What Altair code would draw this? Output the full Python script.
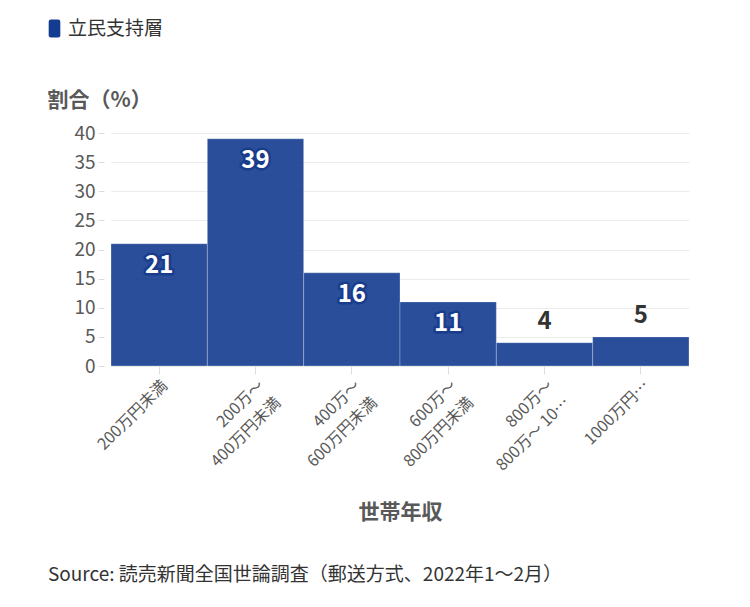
import pandas as pd
import altair as alt

# data
INCOME = [
    "200万円未満",
    "200万～\n400万円未満",
    "400万～\n600万円未満",
    "600万～\n800万円未満",
    "800万～\n800万～ 10…",
    "1000万円…",
]
SHARE = [21, 39, 16, 11, 4, 5]
SERIES = "立民支持層"
SOURCE = "Source: 読売新聞全国世論調査（郵送方式、2022年1～2月）"

BAR = "#133b90"
HALO = "#1a3c8c"
TEXT_DARK = "#333333"
TEXT_GRAY = "#595959"
FONT = "Noto Sans CJK JP"

df = pd.DataFrame({"income": INCOME, "share": SHARE, "series": SERIES})

x_enc = alt.X(
    "income:N",
    sort=INCOME,
    scale=alt.Scale(paddingInner=0, paddingOuter=0),
    axis=alt.Axis(
        title="世帯年収",
        titleFontSize=21,
        titleFontWeight="bold",
        titleColor=TEXT_GRAY,
        titleY=146,
        titleBaseline="middle",
        labelAngle=-45,
        labelAlign="right",
        labelBaseline="top",
        labelFontSize=16,
        labelColor=TEXT_GRAY,
        labelLimit=300,
        labelPadding=3,
        labelLineHeight=24,
        labelExpr="split(datum.label, '\\n')",
        tickColor="#dddddd",
        tickSize=8,
        domain=False,
        grid=False,
    ),
)
y_enc = alt.Y(
    "share:Q",
    scale=alt.Scale(domain=[0, 40], nice=False),
    axis=alt.Axis(
        title="割合（%）",
        titleAngle=0,
        titleAlign="left",
        titleBaseline="middle",
        titleX=-57,
        titleY=-33,
        titleFontSize=21,
        titleFontWeight="bold",
        titleColor=TEXT_GRAY,
        tickCount=8,
        tickMinStep=5,
        labelOverlap=False,
        labelFontSize=19,
        labelColor=TEXT_GRAY,
        labelPadding=3,
        offset=7,
        tickSize=6,
        tickColor="#dddddd",
        gridColor="#ebebeb",
        domain=False,
    ),
)

base = alt.Chart(df)

bars = base.mark_bar(
    opacity=0.9, stroke="#ffffff", strokeOpacity=0.35, strokeWidth=0.8
).encode(
    x=x_enc,
    y=y_enc,
    color=alt.Color(
        "series:N",
        scale=alt.Scale(range=[BAR]),
        legend=alt.Legend(
            title=None,
            orient="none",
            legendX=-66,
            legendY=-114,
            symbolType="M-0.65,-0.75Q-0.65,-1,-0.4,-1L0.4,-1Q0.65,-1,0.65,-0.75L0.65,0.75Q0.65,1,0.4,1L-0.4,1Q-0.65,1,-0.65,0.75Z",
            symbolSize=320,
            symbolOpacity=1,
            symbolStrokeWidth=0,
            labelFontSize=19,
            labelColor=TEXT_DARK,
            labelFont=FONT,
            labelOffset=4,
        ),
    ),
)

inside = base.transform_filter("datum.share >= 10")
halo = inside.mark_text(
    dy=22, baseline="middle", fontSize=24, fontWeight="bold",
    font=FONT, stroke=HALO, strokeWidth=5, strokeJoin="round", color=HALO,
).encode(x=x_enc, y=y_enc, text="share:Q")
inner = inside.mark_text(
    dy=22, baseline="middle", fontSize=24, fontWeight="bold",
    font=FONT, color="#ffffff",
).encode(x=x_enc, y=y_enc, text="share:Q")
outer = base.transform_filter("datum.share < 10").mark_text(
    dy=-21, baseline="middle", fontSize=24, fontWeight="bold",
    font=FONT, color=TEXT_DARK,
).encode(x=x_enc, y=y_enc, text="share:Q")

source = alt.Chart(pd.DataFrame({"t": [SOURCE]})).mark_text(
    align="left", baseline="middle", fontSize=19, font=FONT, color=TEXT_DARK,
).encode(x=alt.value(-63), y=alt.value(442), text="t:N")

chart = alt.layer(bars, halo, inner, outer, source).properties(
    width=578,
    height=233,
    autosize=alt.AutoSizeParams(type="none"),
    padding={"left": 103, "top": 125, "right": 40, "bottom": 230},
    background="#ffffff",
).configure(
    font=FONT,
).configure_view(
    stroke=None,
)

chart.save("out.html", embed_options={"renderer": "svg", "actions": False})
